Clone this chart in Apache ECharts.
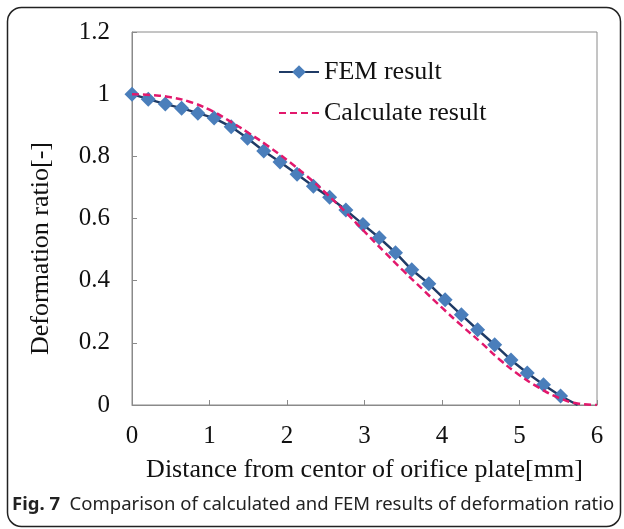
<!DOCTYPE html>
<html>
<head>
<meta charset="utf-8">
<script src="https://cdn.jsdelivr.net/npm/echarts@6/dist/echarts.min.js"></script>
<style>
  html, body { margin: 0; padding: 0; background: #fff; }
  #chart { width: 624px; height: 529px; }
</style>
</head>
<body>
<div id="chart"></div>
<script>
// deformation ratio vs. distance from plate centre

const femX = [0, 0.21, 0.43, 0.64, 0.85, 1.06, 1.28, 1.49, 1.70, 1.91, 2.13, 2.34, 2.55, 2.76,
  2.98, 3.19, 3.40, 3.61, 3.83, 4.04, 4.25, 4.46, 4.68, 4.89, 5.10, 5.31, 5.53, 5.75];
const femY = [1.0, 0.984, 0.968, 0.955, 0.939, 0.923, 0.895, 0.858, 0.817, 0.782, 0.742, 0.704, 0.668, 0.627,
  0.581, 0.538, 0.490, 0.435, 0.390, 0.339, 0.290, 0.242, 0.194, 0.145, 0.103, 0.065, 0.029, 0];

const calcX = [0, 0.25, 0.5, 0.75, 1, 1.25, 1.5, 1.75, 2, 2.25, 2.5, 2.75, 3,
  3.25, 3.5, 3.75, 4, 4.25, 4.5, 4.75, 5, 5.25, 5.5, 5.75, 6];
const calcY = [1.0, 0.997, 0.99, 0.975, 0.95, 0.915, 0.876, 0.834, 0.788, 0.738, 0.682, 0.622, 0.558,
  0.494, 0.432, 0.372, 0.313, 0.256, 0.202, 0.145, 0.096, 0.056, 0.024, 0.005, 0];

const seriesNames = ['FEM result', 'Calculate result'];
const xTitle = 'Distance from centor of orifice plate[mm]';
const yTitle = 'Deformation ratio[-]';

const serif = '"Liberation Serif", "DejaVu Serif", serif';

const femData = femX.map((x, i) => {
  // last point has no marker in the original
  if (i === femX.length - 1) return { value: [x, femY[i]], symbol: 'none' };
  return [x, femY[i]];
});
const calcData = calcX.map((x, i) => [x, calcY[i]]);

const myChart = echarts.init(document.getElementById('chart'));

const option = {
  animation: false,
  grid: {
    left: 132,
    right: 27,
    top: 32,
    bottom: 124,
    show: true,
    borderColor: '#8a8a8a',
    borderWidth: 1
  },
  legend: {
    orient: 'vertical',
    left: 278,
    top: 59,
    padding: 0,
    itemWidth: 40,
    itemHeight: 17,
    itemGap: 15,
    textStyle: { fontFamily: serif, fontSize: 26, color: '#111' },
    data: [
      { name: seriesNames[0] },
      { name: seriesNames[1], itemStyle: { opacity: 0 } }
    ]
  },
  xAxis: {
    type: 'value',
    min: 0,
    max: 6,
    interval: 1,
    name: xTitle,
    nameLocation: 'middle',
    nameGap: 52,
    nameTextStyle: { fontFamily: serif, fontSize: 26, color: '#111' },
    axisLine: { lineStyle: { color: '#8a8a8a', width: 1 } },
    axisTick: { inside: true, length: 5, lineStyle: { color: '#8a8a8a' } },
    axisLabel: { fontFamily: serif, fontSize: 25, color: '#111', margin: 19 },
    splitLine: { show: false }
  },
  yAxis: {
    type: 'value',
    min: 0,
    max: 1.2,
    interval: 0.2,
    name: yTitle,
    nameLocation: 'middle',
    nameGap: 78,
    nameTextStyle: { fontFamily: serif, fontSize: 26, color: '#111', padding: [0, 60, 0, 0] },
    axisLine: { show: true, lineStyle: { color: '#8a8a8a', width: 1 } },
    axisTick: { show: true, inside: true, length: 5, lineStyle: { color: '#8a8a8a' } },
    axisLabel: { fontFamily: serif, fontSize: 25, color: '#111', margin: 22 },
    splitLine: { show: false }
  },
  series: [
    {
      name: seriesNames[0],
      type: 'line',
      data: femData,
      symbol: 'diamond',
      symbolSize: 15,
      itemStyle: { color: '#4a7ebb' },
      lineStyle: { color: '#1f3b66', width: 2.5 },
      z: 3
    },
    {
      name: seriesNames[1],
      type: 'line',
      data: calcData,
      smooth: true,
      symbol: 'none',
      itemStyle: { color: '#e2186c' },
      lineStyle: { color: '#e2186c', width: 2.5, type: [7, 4] },
      z: 4
    }
  ],
  graphic: [
    {
      type: 'rect',
      left: 5,
      top: 5,
      shape: { width: 613, height: 519, r: 14 },
      style: { fill: 'none', stroke: '#222', lineWidth: 1.5 },
      silent: true
    },
    {
      type: 'text',
      left: 12,
      top: 495,
      style: {
        text: '{b|Fig. 7}  Comparison of calculated and FEM results of deformation ratio',
        fontFamily: '"Noto Sans", sans-serif',
        fontSize: 18.5,
        fill: '#222',
        rich: {
          b: { fontFamily: '"Noto Sans", sans-serif', fontSize: 18.5, fontWeight: 'bold', fill: '#222' }
        }
      }
    }
  ]
};

myChart.setOption(option);
</script>
</body>
</html>
